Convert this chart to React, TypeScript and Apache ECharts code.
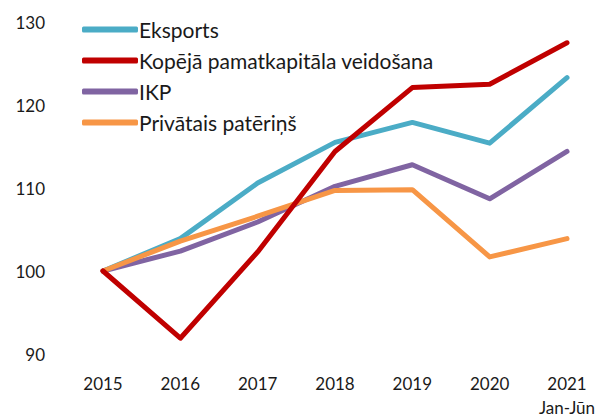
import React, { useEffect, useRef } from "react";
import * as echarts from "echarts";

const categories = ["2015", "2016", "2017", "2018", "2019", "2020", "2021\nJan-Jūn"];
const eksports = [100, 103.9, 110.6, 115.5, 117.9, 115.4, 123.3];
const kopeja = [100, 91.9, 102.3, 114.4, 122.1, 122.5, 127.5];
const ikp = [100, 102.4, 105.9, 110.2, 112.8, 108.7, 114.4];
const privatais = [100, 103.6, 106.6, 109.7, 109.8, 101.7, 103.9];
const yTicks = { min: 90, max: 130, interval: 10 };

const FONT = "Lato";

export default function App() {
  const ref = useRef<HTMLDivElement>(null);
  useEffect(() => {
    document.body.style.margin = "0";
    if (!ref.current) return;
    const chart = echarts.init(ref.current, null, { renderer: "svg" });
    const mk = (name: string, data: number[], color: string, z: number) => ({
      name,
      type: "line",
      data,
      symbol: "none",
      z,
      lineStyle: { width: 5, color, cap: "round", join: "round" },
      itemStyle: { color },
    });
    chart.setOption({
      animation: false,
      textStyle: { fontFamily: FONT },
      grid: { left: 103, right: 37, top: 22, bottom: 62, containLabel: false },
      legend: {
        orient: "vertical",
        left: 77,
        top: 14,
        itemWidth: 56,
        itemHeight: 6,
        itemGap: 10,
        icon: "roundRect",
        textStyle: { fontFamily: FONT, fontSize: 21, lineHeight: 21, color: "#1a1a1a", padding: [0, 0, 0, -4] },
        data: ["Eksports", "Kopējā pamatkapitāla veidošana", "IKP", "Privātais patēriņš"],
      },
      xAxis: {
        type: "category",
        data: categories,
        boundaryGap: false,
        axisLine: { show: false },
        axisTick: { show: false },
        axisLabel: {
          color: "#1a1a1a",
          fontFamily: FONT,
          fontSize: 17,
          margin: 17,
          lineHeight: 24,
        },
      },
      yAxis: {
        type: "value",
        min: yTicks.min,
        max: yTicks.max,
        interval: yTicks.interval,
        splitLine: { show: false },
        axisLine: { show: false },
        axisTick: { show: false },
        axisLabel: { color: "#1a1a1a", fontFamily: FONT, fontSize: 17, margin: 58 },
      },
      series: [
        mk("Eksports", eksports, "#4BACC6", 2),
        mk("Kopējā pamatkapitāla veidošana", kopeja, "#C00000", 5),
        mk("IKP", ikp, "#8064A2", 3),
        mk("Privātais patēriņš", privatais, "#F79646", 4),
      ],
    });
    return () => chart.dispose();
  }, []);
  return <div ref={ref} style={{ width: 604, height: 419 }} />;
}
